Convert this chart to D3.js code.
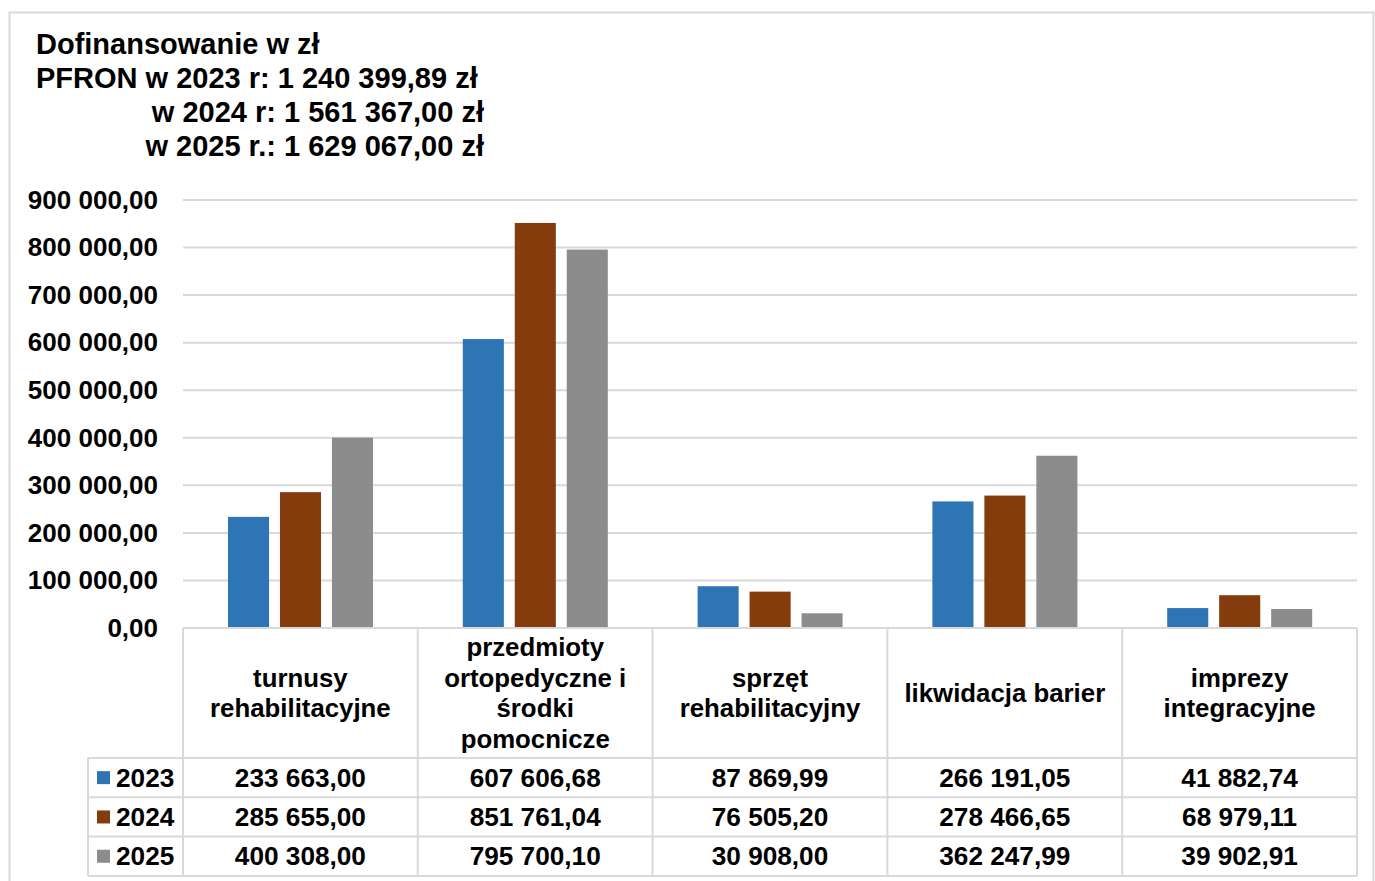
<!DOCTYPE html>
<html>
<head>
<meta charset="utf-8">
<script src="https://cdn.jsdelivr.net/npm/d3@7"></script>
<style>
  body { margin: 0; background: #fff; }
  svg text { font-family: "Liberation Sans", Arial, sans-serif; font-weight: bold; fill: #000; }
</style>
</head>
<body>
<div class="svg-container"></div>
<script>
const categories = [
  'turnusy\nrehabilitacyjne',
  'przedmioty\nortopedyczne i\nśrodki\npomocnicze',
  'sprzęt\nrehabilitacyjny',
  'likwidacja barier',
  'imprezy\nintegracyjne'
]
const years = ['2023', '2024', '2025']
const values2023 = [233663.00, 607606.68, 87869.99, 266191.05, 41882.74]
const values2024 = [285655.00, 851761.04, 76505.20, 278466.65, 68979.11]
const values2025 = [400308.00, 795700.10, 30908.00, 362247.99, 39902.91]
const yTicks = [0, 100000, 200000, 300000, 400000, 500000, 600000, 700000, 800000, 900000]
const titleLines = [
  'Dofinansowanie w zł',
  'PFRON w 2023 r: 1 240 399,89 zł',
  'w 2024 r: 1 561 367,00 zł',
  'w 2025 r.: 1 629 067,00 zł'
]
const colors = ['#2E75B6', '#843C0C', '#8C8C8C']

const series = [values2023, values2024, values2025]

const width = 1375
const height = 881
const plotLeft = 183
const plotRight = 1357
const plotTop = 200
const plotBottom = 628
const headerBottom = 758
const rowHeight = 39.3
const legendLeft = 88
const gridColor = '#D9D9D9'

const pl = d3.formatLocale({ decimal: ',', thousands: ' ', grouping: [3], currency: ['', ' zł'] })
const fmt = pl.format(',.2f')

const svg = d3.select('.svg-container')
  .append('svg')
  .attr('width', width)
  .attr('height', height)

// outer frame
svg.append('rect')
  .attr('x', 9.5).attr('y', 12.5)
  .attr('width', 1364).attr('height', 900)
  .attr('fill', 'none')
  .attr('stroke', gridColor)
  .attr('stroke-width', 2)

// title
svg.append('g')
  .selectAll('text')
  .data(titleLines)
  .join('text')
  .attr('x', (d, i) => i < 2 ? 36 : 484)
  .attr('y', (d, i) => 54 + i * 34)
  .attr('text-anchor', (d, i) => i < 2 ? 'start' : 'end')
  .attr('font-size', 29)
  .text(d => d)

const xScale = d3.scaleBand(d3.range(categories.length), [plotLeft, plotRight])
const inner = d3.scaleBand(d3.range(years.length), [45, 190]).paddingInner(0.21)
const yScale = d3.scaleLinear([0, 900000], [plotBottom, plotTop])

// gridlines
svg.append('g')
  .selectAll('line')
  .data(yTicks.slice(1))
  .join('line')
  .attr('x1', plotLeft).attr('x2', plotRight)
  .attr('y1', d => yScale(d)).attr('y2', d => yScale(d))
  .attr('stroke', gridColor)
  .attr('stroke-width', 2)

// y axis labels
const yAxis = d3.axisLeft(yScale)
  .tickValues(yTicks)
  .tickFormat(fmt)
  .tickSize(0)
  .tickPadding(25)

svg.append('g')
  .attr('transform', `translate(${plotLeft}, 0)`)
  .call(yAxis)
  .call(g => g.select('.domain').remove())
  .call(g => g.selectAll('text')
    .attr('font-size', 26)
    .attr('font-family', '"Liberation Sans", Arial, sans-serif')
    .attr('fill', '#000'))

// bars
svg.append('g')
  .selectAll('g')
  .data(series)
  .join('g')
  .attr('fill', (d, i) => colors[i])
  .each(function (vals, s) {
    d3.select(this).selectAll('rect')
      .data(vals)
      .join('rect')
      .attr('x', (d, c) => xScale(c) + inner(s))
      .attr('width', inner.bandwidth())
      .attr('y', d => yScale(d))
      .attr('height', d => yScale(0) - yScale(d))
  })

// data table
const table = svg.append('g')
const tableBottom = headerBottom + rowHeight * years.length

table.append('line')
  .attr('x1', plotLeft).attr('x2', plotRight)
  .attr('y1', plotBottom).attr('y2', plotBottom)
  .attr('stroke', gridColor).attr('stroke-width', 2)

table.selectAll('line.row')
  .data(d3.range(years.length + 1))
  .join('line')
  .attr('class', 'row')
  .attr('x1', legendLeft).attr('x2', plotRight)
  .attr('y1', i => headerBottom + i * rowHeight)
  .attr('y2', i => headerBottom + i * rowHeight)
  .attr('stroke', gridColor).attr('stroke-width', 2)

table.selectAll('line.col')
  .data(d3.range(categories.length + 1))
  .join('line')
  .attr('class', 'col')
  .attr('x1', i => plotLeft + i * xScale.step())
  .attr('x2', i => plotLeft + i * xScale.step())
  .attr('y1', plotBottom).attr('y2', tableBottom)
  .attr('stroke', gridColor).attr('stroke-width', 2)

table.append('line')
  .attr('x1', legendLeft).attr('x2', legendLeft)
  .attr('y1', headerBottom).attr('y2', tableBottom)
  .attr('stroke', gridColor).attr('stroke-width', 2)

// category headers
const headerMid = (plotBottom + headerBottom) / 2
table.selectAll('text.cat')
  .data(categories)
  .join('text')
  .attr('class', 'cat')
  .attr('text-anchor', 'middle')
  .attr('font-size', 25.8)
  .each(function (d, c) {
    const lines = d.split('\n')
    d3.select(this).selectAll('tspan')
      .data(lines)
      .join('tspan')
      .attr('x', xScale(c) + xScale.bandwidth() / 2)
      .attr('y', (l, i) => headerMid + (i - (lines.length - 1) / 2) * 30.5)
      .attr('dy', '0.35em')
      .text(l => l)
  })

// legend keys and values
years.forEach((year, s) => {
  const cy = headerBottom + (s + 0.5) * rowHeight
  table.append('rect')
    .attr('x', 97).attr('y', cy - 6.5)
    .attr('width', 13).attr('height', 13)
    .attr('fill', colors[s])
  table.append('text')
    .attr('x', 116).attr('y', cy).attr('dy', '0.35em')
    .attr('font-size', 26.2)
    .text(year)
  table.selectAll(null)
    .data(series[s])
    .join('text')
    .attr('x', (d, c) => xScale(c) + xScale.bandwidth() / 2)
    .attr('y', cy).attr('dy', '0.35em')
    .attr('text-anchor', 'middle')
    .attr('font-size', 26.2)
    .text(d => fmt(d))
})
</script>
</body>
</html>
